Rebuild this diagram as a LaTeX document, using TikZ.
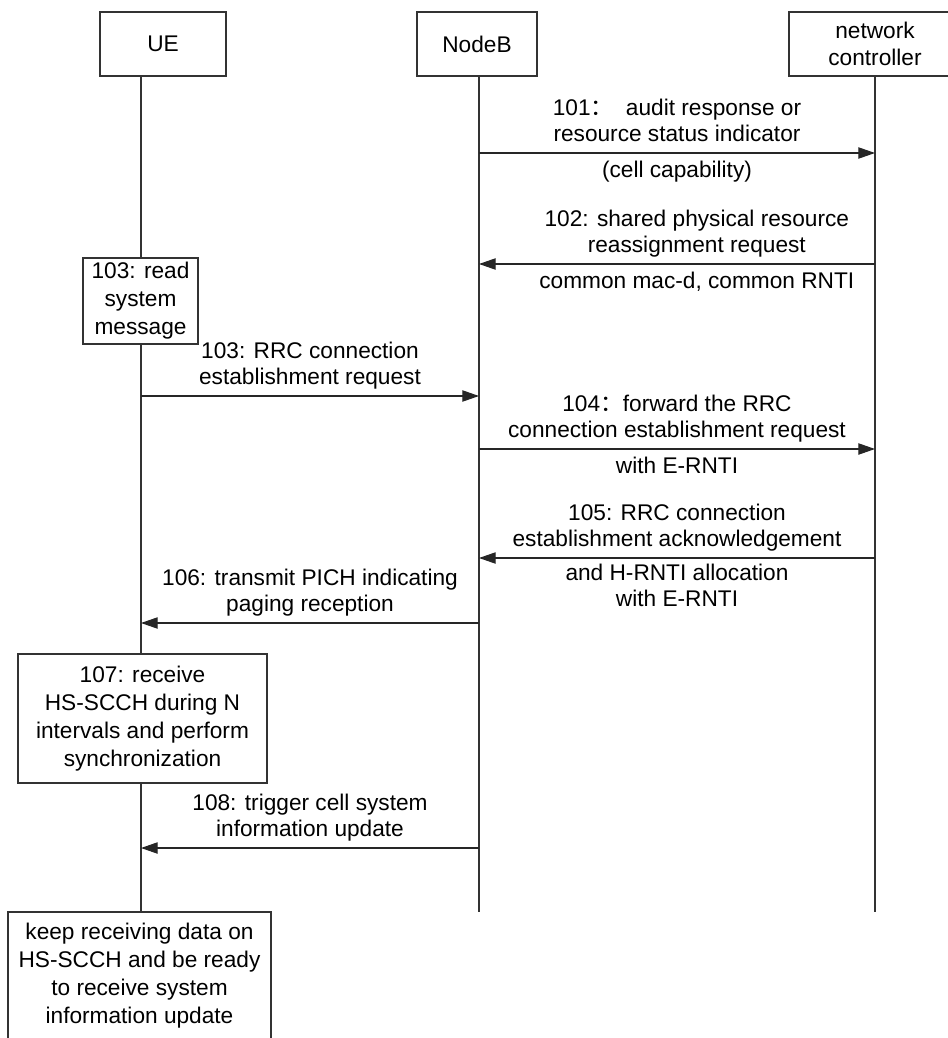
\documentclass[tikz,border=0pt]{standalone}
\usepackage{fontspec}
\setmainfont{Liberation Sans}
\newfontfamily\cjk{Noto Sans CJK SC}
\usetikzlibrary{positioning,arrows.meta}

\begin{document}
\begin{tikzpicture}[x=0.75pt,y=0.75pt,yscale=-1,xscale=1,
  box/.style={draw=black!80,line width=0.8pt,align=center,inner sep=0pt,font=\fontsize{17}{21}\selectfont},
  life/.style={draw=black!80,line width=0.8pt},
  msg/.style={draw=black!85,line width=0.8pt,-{Triangle[length=12.5pt,width=8.5pt]}},
  lbl/.style={align=center,inner sep=0pt,font=\fontsize{17}{19.5}\selectfont,
    execute at begin node=\strut,execute at end node=\strut},
  lblup/.style={lbl,anchor=south,outer sep=2.5pt},
  lbldn/.style={lbl,anchor=north,outer sep=4.5pt}]
%set diagram size 948 x 1038
\clip (0,0) rectangle (948,1038);

%Heads of the lifelines
\node [box,minimum width=94.5pt,minimum height=48pt] (ue) at (163,44) {UE};
\node [box,minimum width=90pt,minimum height=48pt] (nb) at (477,44) {NodeB};
\node [box,minimum width=129pt,minimum height=48pt,font=\fontsize{17}{20}\selectfont] (nc) at (875,44) {network\\controller};

%Action boxes on the UE side
\node [box,minimum width=86.25pt,minimum height=64.5pt] (read) at (140.5,301) {103: read\\system\\message};
\node [box,minimum width=186.75pt,minimum height=96.75pt] (recv) at (142.5,718.5) {107: receive\\HS-SCCH during N\\intervals and perform\\synchronization};
\node [box,minimum width=197.25pt,minimum height=95.25pt] (keep) at (139.5,975.5) {keep receiving data on\\HS-SCCH and be ready\\to receive system\\information update};

%Lifelines
\coordinate (ueL) at (141,76);
\coordinate (nbL) at (479,76);
\coordinate (ncL) at (875,76);
\coordinate (nbE) at (479,912);
\coordinate (ncE) at (875,912);
\draw [life] (ueL) -- (ueL |- read.north);
\draw [life] (read.south -| ueL) -- (recv.north -| ueL);
\draw [life] (recv.south -| ueL) -- (keep.north -| ueL);
\draw [life] (nbL) -- (nbE);
\draw [life] (ncL) -- (ncE);

%Message ends on each lifeline
\foreach \n/\y in {101/153,102/264,103/396,104/449,105/558,106/623,108/848}{
  \coordinate (ue\n) at (141,\y);
  \coordinate (nb\n) at (479,\y);
  \coordinate (nc\n) at (875,\y);
}

% 101
\draw [msg] (nb101) -- (nc101)
  node [midway,lblup] {101{\cjk ：}\ \ audit response or\\resource status indicator}
  node [midway,lbldn] {(cell capability)};
% 102
\draw [msg] (nc102) -- (nb102)
  node [pos=0.45,lblup] {102: shared physical resource\\reassignment request}
  node [pos=0.45,lbldn] {common mac-d, common RNTI};
% 103
\draw [msg] (ue103) -- (nb103)
  node [midway,lblup] {103: RRC connection\\establishment request};
% 104
\draw [msg] (nb104) -- (nc104)
  node [midway,lblup] {104{\cjk ：}forward the RRC\\connection establishment request}
  node [midway,lbldn] {with E-RNTI};
% 105
\draw [msg] (nc105) -- (nb105)
  node [midway,lblup] {105: RRC connection\\establishment acknowledgement}
  node [midway,lbldn] {and H-RNTI allocation\\with E-RNTI};
% 106
\draw [msg] (nb106) -- (ue106)
  node [midway,lblup] {106: transmit PICH indicating\\paging reception};
% 108
\draw [msg] (nb108) -- (ue108)
  node [midway,lblup] {108: trigger cell system\\information update};
\end{tikzpicture}
\end{document}
